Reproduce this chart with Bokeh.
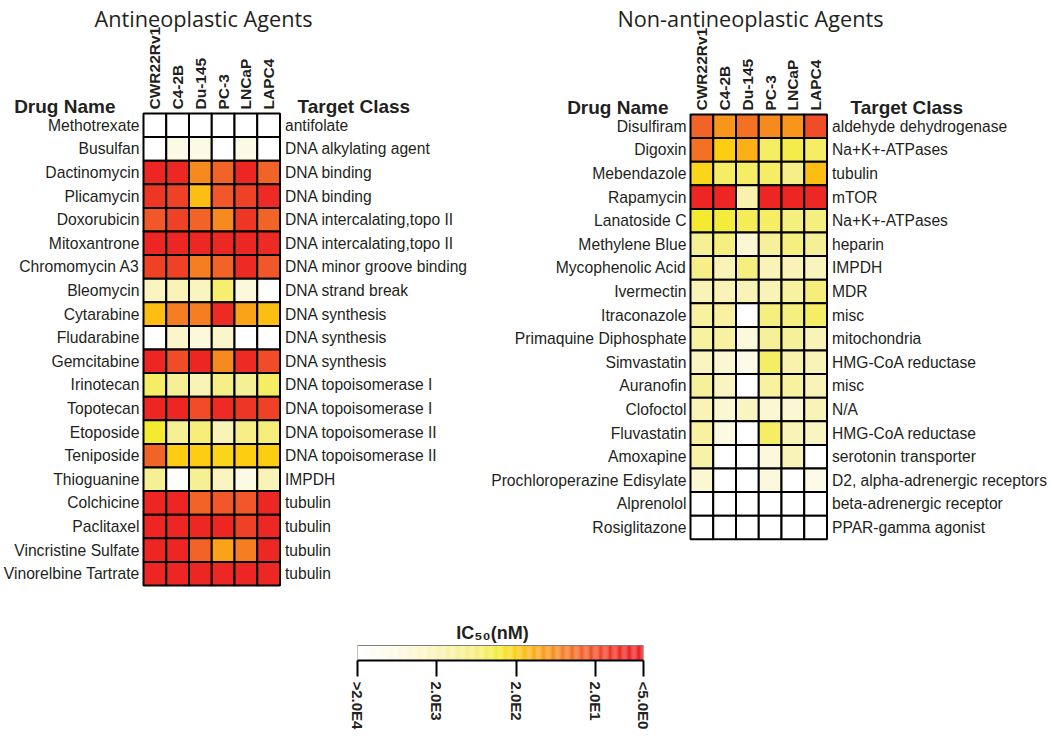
import math
import numpy as np
from bokeh.plotting import figure
from bokeh.models import ColumnDataSource, LinearColorMapper, Range1d, FixedTicker
from bokeh.core.properties import value
from bokeh.layouts import column, row
from bokeh.embed import file_html
from bokeh.resources import INLINE

# ---------------- data ----------------
CELL_LINES = ["CWR22Rv1", "C4-2B", "Du-145", "PC-3", "LNCaP", "LAPC4"]

ANTI_DRUGS = ["Methotrexate", "Busulfan", "Dactinomycin", "Plicamycin", "Doxorubicin",
              "Mitoxantrone", "Chromomycin A3", "Bleomycin", "Cytarabine", "Fludarabine",
              "Gemcitabine", "Irinotecan", "Topotecan", "Etoposide", "Teniposide",
              "Thioguanine", "Colchicine", "Paclitaxel", "Vincristine Sulfate",
              "Vinorelbine Tartrate"]
ANTI_TARGETS = ["antifolate", "DNA alkylating agent", "DNA binding", "DNA binding",
                "DNA intercalating,topo II", "DNA intercalating,topo II",
                "DNA minor groove binding", "DNA strand break", "DNA synthesis",
                "DNA synthesis", "DNA synthesis", "DNA topoisomerase I",
                "DNA topoisomerase I", "DNA topoisomerase II", "DNA topoisomerase II",
                "IMPDH", "tubulin", "tubulin", "tubulin", "tubulin"]
# log10(IC50 / nM), columns follow CELL_LINES
ANTI_LOG_IC50 = [
    [4.3, 4.3, 4.3, 4.3, 4.3, 4.3],
    [4.3, 3.85, 3.8, 4.3, 3.85, 4.3],
    [0.9, 0.95, 1.8, 1.5, 0.9, 1.5],
    [1.1, 1.2, 2.2, 1.4, 1.2, 1.0],
    [1.4, 1.2, 1.5, 1.8, 1.1, 1.5],
    [0.9, 0.9, 0.95, 0.95, 0.9, 1.0],
    [1.2, 1.2, 1.7, 1.5, 1.0, 1.4],
    [3.4, 3.3, 3.4, 2.75, 3.7, 4.3],
    [2.2, 1.7, 1.7, 1.0, 2.0, 2.2],
    [4.3, 3.5, 3.7, 3.5, 4.3, 4.3],
    [0.9, 1.3, 0.9, 1.8, 1.0, 1.3],
    [2.7, 3.0, 3.3, 2.9, 3.0, 2.7],
    [0.9, 0.9, 1.3, 1.0, 1.1, 1.2],
    [2.5, 3.0, 2.8, 3.3, 2.9, 2.8],
    [1.5, 2.3, 2.3, 2.35, 2.3, 2.3],
    [3.0, 4.3, 3.0, 3.4, 3.8, 3.3],
    [0.9, 0.9, 1.5, 1.4, 1.4, 0.95],
    [0.9, 0.9, 0.95, 0.9, 1.2, 0.95],
    [0.9, 0.9, 1.5, 2.0, 1.7, 0.95],
    [0.9, 0.9, 0.9, 0.95, 0.9, 0.95],
]

NON_DRUGS = ["Disulfiram", "Digoxin", "Mebendazole", "Rapamycin", "Lanatoside C",
             "Methylene Blue", "Mycophenolic Acid", "Ivermectin", "Itraconazole",
             "Primaquine Diphosphate", "Simvastatin", "Auranofin", "Clofoctol",
             "Fluvastatin", "Amoxapine", "Prochloroperazine Edisylate", "Alprenolol",
             "Rosiglitazone"]
NON_TARGETS = ["aldehyde dehydrogenase", "Na+K+-ATPases", "tubulin", "mTOR",
               "Na+K+-ATPases", "heparin", "IMPDH", "MDR", "misc", "mitochondria",
               "HMG-CoA reductase", "misc", "N/A", "HMG-CoA reductase",
               "serotonin transporter", "D2, alpha-adrenergic receptors",
               "beta-adrenergic receptor", "PPAR-gamma agonist"]
NON_LOG_IC50 = [
    [1.5, 1.9, 1.6, 1.8, 1.9, 1.3],
    [1.6, 2.3, 2.1, 2.7, 2.6, 2.7],
    [2.35, 2.7, 2.7, 2.7, 2.9, 2.2],
    [0.9, 0.9, 3.2, 0.9, 0.9, 0.95],
    [2.5, 2.55, 2.65, 2.7, 2.85, 2.85],
    [3.0, 2.85, 3.6, 3.05, 2.85, 3.0],
    [2.9, 3.3, 2.85, 3.3, 3.3, 3.35],
    [3.3, 3.3, 3.3, 3.3, 3.1, 2.8],
    [3.1, 3.1, 4.3, 2.85, 2.85, 2.7],
    [3.1, 3.1, 3.7, 3.05, 3.05, 3.3],
    [3.4, 3.6, 3.9, 2.7, 3.2, 3.3],
    [3.05, 3.4, 4.3, 3.1, 3.1, 3.3],
    [3.3, 3.6, 3.4, 3.6, 3.6, 3.3],
    [3.1, 3.8, 4.3, 2.7, 3.3, 3.4],
    [3.15, 4.3, 4.3, 3.7, 3.3, 4.3],
    [3.6, 4.3, 4.3, 3.7, 4.3, 3.9],
    [4.3, 4.3, 4.3, 4.3, 4.3, 4.3],
    [4.3, 4.3, 4.3, 4.3, 4.3, 4.3],
]

CB_VALUES_NM = [2.0e4, 2.0e3, 2.0e2, 2.0e1, 5.0e0]
CB_LABELS = [">2.0E4", "2.0E3", "2.0E2", "2.0E1", "<5.0E0"]
CB_TITLE = "IC₅₀(nM)"

# ---------------- colours ----------------
STOPS = [(0.00, "#FFFFFF"), (0.15, "#FCF9E0"), (0.30, "#F8F2B0"), (0.42, "#F5EE78"),
         (0.50, "#F4EB30"), (0.56, "#FDCB10"), (0.60, "#FDB515"), (0.68, "#F7901E"),
         (0.80, "#F15A29"), (0.92, "#ED2A24"), (1.00, "#ED1C24")]


def hex2rgb(h):
    return [int(h[i:i + 2], 16) for i in (1, 3, 5)]


def build_palette(n=256):
    pos = [s[0] for s in STOPS]
    rgb = np.array([hex2rgb(s[1]) for s in STOPS], dtype=float)
    out = []
    for p in np.linspace(0, 1, n):
        c = [np.interp(p, pos, rgb[:, k]) for k in range(3)]
        out.append("#%02X%02X%02X" % tuple(int(round(v)) for v in c))
    return out[::-1]  # index 0 = lowest IC50 (red)


PALETTE = build_palette()
LOW = math.log10(min(CB_VALUES_NM))
HIGH = math.log10(max(CB_VALUES_NM))
mapper = LinearColorMapper(palette=PALETTE, low=LOW, high=HIGH,
                           high_color="#FFFFFF", low_color=PALETTE[0])

FONT = value("Liberation Sans")
TXT = "#231F20"
COL_W = 22.75   # px per cell column
ROW_H = 23.6    # px per cell row
PANEL_H = 602


def panel(drugs, targets, vals, title, fig_w, grid_left_px, grid_top_px,
          title_cx_px, target_hdr_px, drug_hdr_right_px):
    n = len(drugs)
    x0 = -grid_left_px / COL_W
    x1 = x0 + fig_w / COL_W
    ytop = -grid_top_px / ROW_H
    ybot = ytop + PANEL_H / ROW_H
    p = figure(x_range=Range1d(x0, x1), y_range=Range1d(ybot, ytop),
               width=fig_w, height=PANEL_H, min_border=0,
               output_backend="svg", toolbar_location=None, tools="",
               x_axis_location=None, y_axis_location=None)
    p.xgrid.visible = False
    p.ygrid.visible = False
    p.outline_line_color = None
    p.background_fill_color = "white"
    p.border_fill_color = "white"

    xs, ys, vs = [], [], []
    for i, rowv in enumerate(vals):
        for j, v in enumerate(rowv):
            xs.append(j + 0.5)
            ys.append(i + 0.5)
            vs.append(v)
    src = ColumnDataSource(dict(x=xs, y=ys, v=vs))
    p.rect(x="x", y="y", width=1, height=1, source=src,
           fill_color={"field": "v", "transform": mapper},
           line_color="black", line_width=2)

    rows = [i + 0.5 for i in range(n)]
    p.text(x=[-4 / COL_W] * n, y=rows, text=drugs, text_align="right",
           text_baseline="middle", text_font=FONT, text_font_size="15.7px",
           text_color=TXT)
    p.text(x=[len(CELL_LINES) + 5 / COL_W] * n, y=rows, text=targets, text_align="left",
           text_baseline="middle", text_font=FONT, text_font_size="15.6px",
           text_color=TXT)
    m = len(CELL_LINES)
    p.text(x=[j + 0.5 for j in range(m)], y=[-4 / ROW_H] * m, text=CELL_LINES,
           angle=math.pi / 2, text_align="left", text_baseline="middle",
           text_font=FONT, text_font_style="bold", text_font_size="15.5px",
           text_color=TXT)
    hdr_y = -7 / ROW_H
    p.text(x=[drug_hdr_right_px / COL_W], y=[hdr_y], text=["Drug Name"], text_align="right",
           text_baseline="alphabetic", text_font=FONT, text_font_style="bold",
           text_font_size="19px", text_color=TXT)
    p.text(x=[target_hdr_px / COL_W], y=[hdr_y], text=["Target Class"], text_align="left",
           text_baseline="alphabetic", text_font=FONT, text_font_style="bold",
           text_font_size="19px", text_color=TXT)
    p.text(x=[title_cx_px / COL_W], y=[ytop + 18 / ROW_H], text=[title], text_align="center",
           text_baseline="alphabetic", text_font=value("Open Sans"),
           text_font_size="21.7px", text_color=TXT)
    return p


# left panel: page x 0..480, grid at page (143,113)
pL = panel(ANTI_DRUGS, ANTI_TARGETS, ANTI_LOG_IC50, "Antineoplastic Agents",
           480, 143, 113, 203 - 143, 297 - 143, 115 - 143)
# right panel: page x 480..1050, grid at page (690,114)
pR = panel(NON_DRUGS, NON_TARGETS, NON_LOG_IC50, "Non-antineoplastic Agents",
           570, 210, 114, 750 - 690, 850 - 690, 668 - 690)

# ---------------- colour bar ----------------
BAR_H = 15
CB_FRAME_H = 58
cb = figure(x_range=Range1d(HIGH, LOW), y_range=Range1d(0, CB_FRAME_H / BAR_H),
            frame_width=286, frame_height=CB_FRAME_H,
            min_border_left=357, min_border_right=60, min_border_top=0,
            min_border_bottom=70, output_backend="svg", toolbar_location=None, tools="",
            y_axis_location=None)
nseg = len(PALETTE)
step = (HIGH - LOW) / nseg
lefts = [LOW + i * step for i in range(nseg)]
rights = [LOW + (i + 1) * step for i in range(nseg)]
cb.quad(left=lefts, right=rights, bottom=0, top=1, fill_color=PALETTE, line_color=None)
cb.quad(left=[LOW], right=[HIGH], bottom=0, top=1, fill_color=None,
        line_color="#7F7F7F", line_width=1)
cb.xgrid.visible = False
cb.ygrid.visible = False
cb.outline_line_color = None
cb.border_fill_color = "white"
cb.text(x=[HIGH - (492 - 357) / 286 * (HIGH - LOW)], y=[(660 - 632) / BAR_H],
        text=[CB_TITLE], text_align="center", text_baseline="alphabetic",
        text_font=FONT, text_font_style="bold", text_font_size="18px", text_color=TXT)
cb_ticks = [math.log10(v) for v in CB_VALUES_NM]
xa = cb.xaxis[0]
xa.ticker = FixedTicker(ticks=cb_ticks)
xa.major_label_overrides = {t: l for t, l in zip(cb_ticks, CB_LABELS)}
xa.major_label_orientation = "vertical"
xa.axis_line_color = "black"
xa.axis_line_width = 2
xa.major_tick_line_color = "black"
xa.major_tick_line_width = 2
xa.major_tick_in = 0
xa.major_tick_out = 16
xa.minor_tick_line_color = None
xa.major_label_text_font = "Liberation Sans"
xa.major_label_text_font_style = "bold"
xa.major_label_text_font_size = "15px"
xa.major_label_text_color = TXT
xa.major_label_standoff = 5

layout = column(row(pL, pR, spacing=0), cb, spacing=0)
open("out.html", "w").write(file_html(layout, INLINE))
